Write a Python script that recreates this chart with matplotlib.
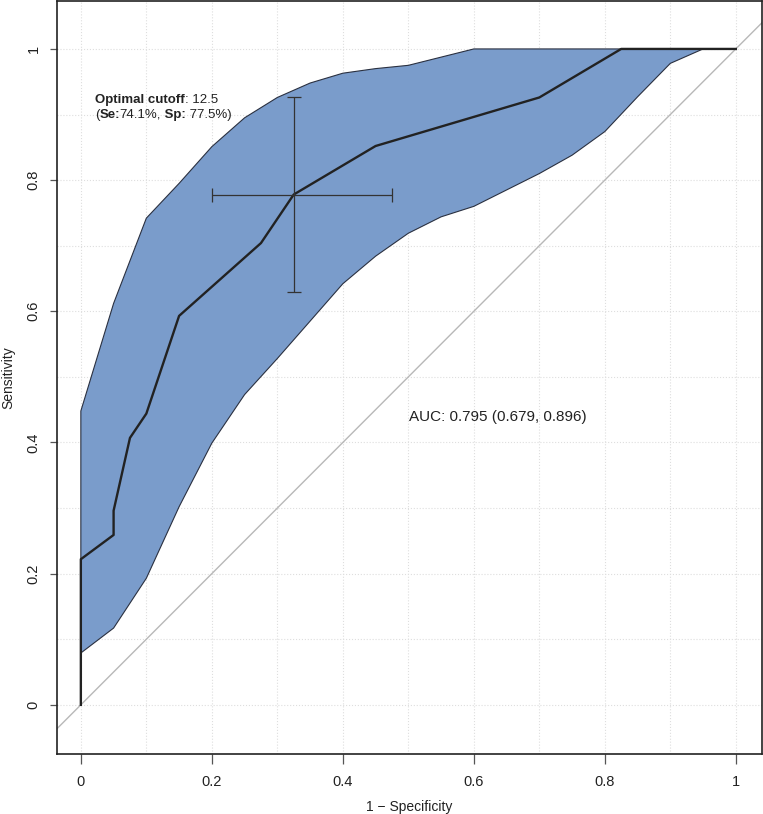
import numpy as np
import matplotlib
matplotlib.use("Agg")
import matplotlib.pyplot as plt

plt.rcParams['font.family'] = ['Liberation Sans', 'DejaVu Sans']

# ROC curve (1 - specificity, sensitivity)
fpr = [0, 0, 0.05, 0.05, 0.075, 0.1, 0.15, 0.275, 0.325, 0.45, 0.7, 0.825, 1.0]
tpr = [0, 0.222, 0.259, 0.296, 0.407, 0.444, 0.593, 0.704, 0.778, 0.852,
       0.926, 1.0, 1.0]

# confidence band of the curve
upper_x = [0, 0.05, 0.1, 0.15, 0.2, 0.25, 0.3, 0.35, 0.4, 0.45, 0.5, 0.6, 1.0]
upper_y = [0.448, 0.612, 0.742, 0.795, 0.851, 0.895, 0.926, 0.948, 0.963,
           0.970, 0.975, 1.0, 1.0]
lower_x = [0, 0.05, 0.1, 0.15, 0.2, 0.25, 0.3, 0.35, 0.4, 0.45, 0.5, 0.55,
           0.6, 0.7, 0.75, 0.8, 0.85, 0.9, 0.95, 1.0]
lower_y = [0.079, 0.117, 0.193, 0.302, 0.399, 0.473, 0.528, 0.585, 0.642,
           0.684, 0.719, 0.744, 0.760, 0.810, 0.838, 0.874, 0.927, 0.978,
           1.0, 1.0]

# optimal cutoff point with its intervals
opt_x = 0.325
opt_y = 0.778
opt_x_ci = (0.2, 0.475)
opt_y_ci = (0.629, 0.926)

ticks = [0, 0.2, 0.4, 0.6, 0.8, 1]
tick_labels = ["0", "0.2", "0.4", "0.6", "0.8", "1"]
grid_pos = np.round(np.arange(0, 1.01, 0.1), 2)

fig = plt.figure(figsize=(7.63, 8.14), dpi=100)
ax = fig.add_axes([0.0742, 0.0737, 0.9245, 0.9250])

# dotted grid every 0.1
for g in grid_pos:
    ax.axvline(g, color='#dedede', lw=0.8, ls=':', zorder=0)
    ax.axhline(g, color='#dedede', lw=0.8, ls=':', zorder=0)

# chance line
ax.axline((0, 0), (1, 1), color='#b8b8b8', lw=1, zorder=1)

# band
band_x = list(upper_x) + list(lower_x[::-1])
band_y = list(upper_y) + list(lower_y[::-1])
ax.fill(band_x, band_y, facecolor='#7a9ccb', edgecolor='#2a3040',
        lw=0.8, zorder=2)

# curve
ax.plot(fpr, tpr, color='#222222', lw=1.7, zorder=3)

# cutoff cross
ax.errorbar([opt_x], [opt_y],
            xerr=[[opt_x - opt_x_ci[0]], [opt_x_ci[1] - opt_x]],
            yerr=[[opt_y - opt_y_ci[0]], [opt_y_ci[1] - opt_y]],
            fmt='none', ecolor='#333333', elinewidth=0.9, capsize=4.7,
            capthick=0.9, zorder=4)

# annotation with bold pieces
fs = 9.5
t = ax.text(0.0213, 0.918, "Optimal cutoff", fontsize=fs, fontweight='bold',
            color='#222222', va='baseline', ha='left')
ax.annotate(": 12.5", xy=(1, 0), xycoords=t, va='bottom', ha='left',
            fontsize=fs, color='#222222')
pieces = [("(", 'normal'), ("Se:", 'bold'), ("74.1%,", 'normal'),
          (" Sp:", 'bold'), (" 77.5%)", 'normal')]
prev = ax.text(0.0213, 0.895, pieces[0][0], fontsize=fs, color='#222222',
               va='baseline', ha='left')
for txt, w in pieces[1:]:
    prev = ax.annotate(txt, xy=(1, 0), xycoords=prev, va='bottom', ha='left',
                       fontsize=fs, fontweight=w, color='#222222')

ax.text(0.5015, 0.433, "AUC: 0.795 (0.679, 0.896)", fontsize=11,
        color='#222222', va='baseline', ha='left')

ax.set_xlim(-0.037, 1.04)
ax.set_ylim(-0.075, 1.073)
ax.set_xticks(ticks)
ax.set_xticklabels(tick_labels)
ax.set_yticks(ticks)
ax.set_yticklabels(tick_labels, rotation=90, va='center')
ax.tick_params(direction='out', width=0.9, color='#555555',
               labelsize=10.5, labelcolor='#222222')
ax.tick_params(axis='x', length=7, pad=8)
ax.tick_params(axis='y', length=5, pad=6.5)
for s in ax.spines.values():
    s.set_color('#222222')
    s.set_linewidth(1.2)

ax.set_xlabel("1 \u2212 Specificity", fontsize=10, color='#222222', labelpad=8)
ax.set_ylabel("Sensitivity", fontsize=10, color='#222222', labelpad=8.5)

fig.savefig("out.png", dpi=100)
